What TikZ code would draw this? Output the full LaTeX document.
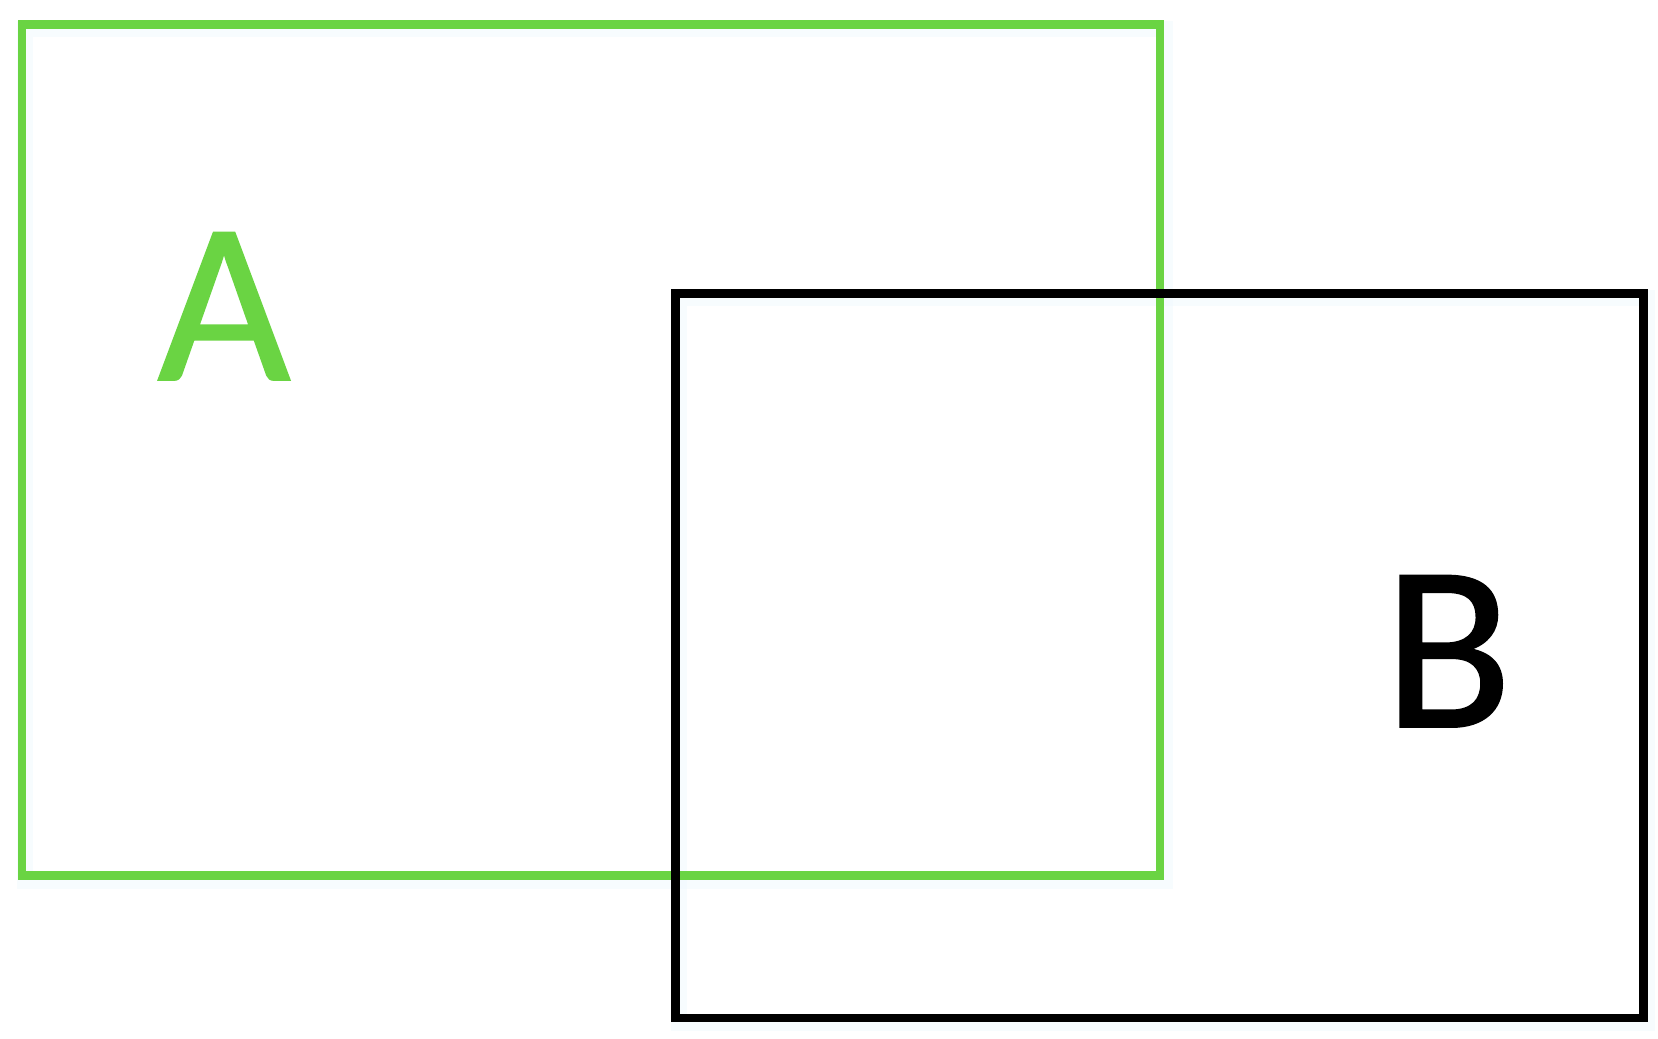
\documentclass[tikz,border=0pt]{standalone}
\usepackage{fontspec}
\setmainfont{Carlito}
\newfontfamily\labelfont[FakeBold=0.8]{Carlito}
\definecolor{agreen}{HTML}{6AD443}
\begin{document}
\begin{tikzpicture}[x=1pt,y=-1pt,
  boxline/.style={line width=8.5pt},
  glow/.style={line width=16pt, draw=cyan!6, opacity=0.5}]
\useasboundingbox (0,0) rectangle (1658,1039);
\fill[white] (0,0) rectangle (1658,1039);
% faint glow
\draw[glow] (25,29) rectangle (1165,881);
\draw[glow] (679,298) rectangle (1647,1023);
\draw[boxline, draw=agreen] (22,24.5) rectangle (1160,875.5);
\draw[boxline, draw=black] (675.6,293.5) rectangle (1643.5,1018);
\node[inner sep=0, anchor=base, text=agreen, font=\labelfont\fontsize{230}{230}\selectfont] (A) at (224,380) {A};
\node[inner sep=0, anchor=base, text=black, font=\labelfont\fontsize{236}{236}\selectfont] (B) at (1448,727) {B};
\end{tikzpicture}
\end{document}
